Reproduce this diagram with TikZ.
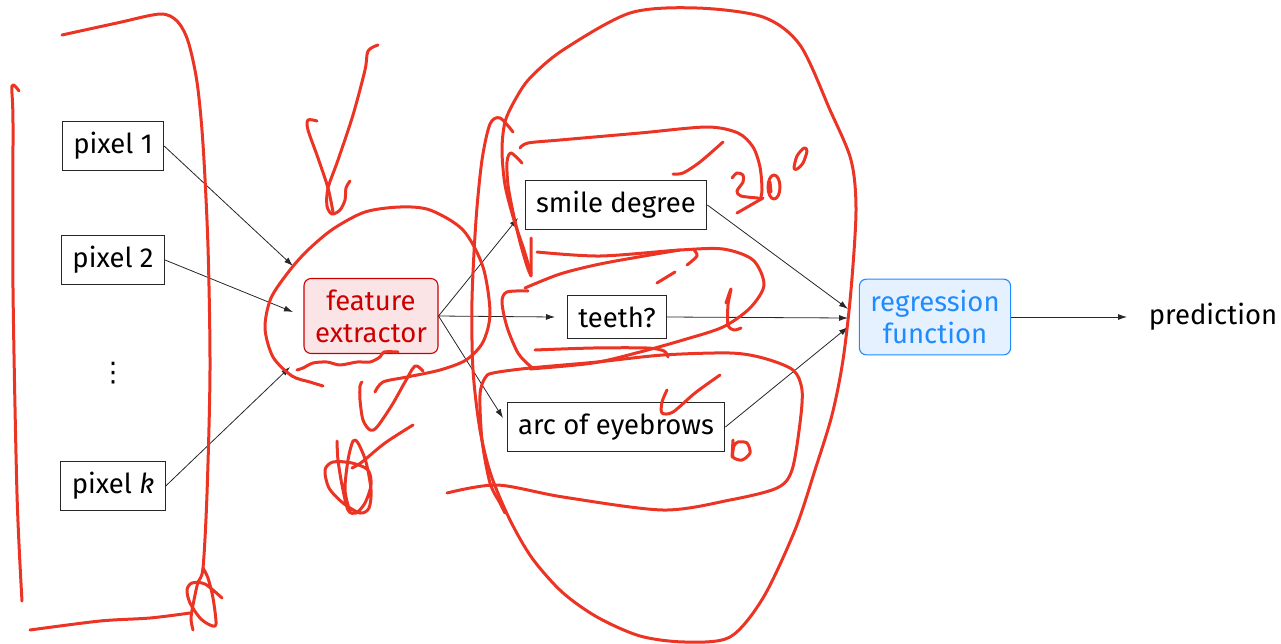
\documentclass[tikz,border=0pt]{standalone}
\usepackage{fontspec}
\setmainfont{Fira Sans}
\newfontfamily\symfont{DejaVu Sans}
\usetikzlibrary{arrows.meta}
\definecolor{inkred}{RGB}{236,52,36}
\definecolor{fered}{RGB}{204,0,0}
\definecolor{fefill}{RGB}{250,228,230}
\definecolor{regblue}{RGB}{30,140,255}
\definecolor{regfill}{RGB}{230,241,255}
\tikzset{
  lbl/.style={font=\fontsize{27.5}{32}\selectfont, inner sep=11pt, align=center},
  box/.style={lbl, draw=black!85, line width=0.9pt, fill=white},
  fbox/.style={lbl, draw=fered, line width=1.1pt, fill=fefill, text=fered, rounded corners=7pt},
  rbox/.style={lbl, draw=regblue, line width=1.1pt, fill=regfill, text=regblue, rounded corners=7pt},
  conn/.style={draw=black!85, line width=0.8pt, -{Latex[length=9pt,width=6pt]}},
  ink/.style={draw=inkred, line width=3pt, line cap=round, line join=round},
}
\begin{document}
\begin{tikzpicture}[x=1pt,y=-1pt]
\useasboundingbox (0,0) rectangle (1281,643);

% inputs
\node[box] (p1) at (113,146) {pixel 1};
\node[box] (p2) at (113,260) {pixel 2};
\node[lbl, inner sep=0pt, font=\symfont\fontsize{27}{30}\selectfont] (dots) at (113,373) {⋮};
\node[box] (pk) at (113,486) {pixel \textit{k}};

% feature extractor and features
\node[fbox] (fe) at (371,316) {feature\\extractor};
\node[box] (smile) at (616,205) {smile degree};
\node[box] (teeth) at (617,317) {teeth?};
\node[box] (arc) at (616,427) {arc of eyebrows};

% regression and output
\node[rbox] (reg) at (935,317) {regression\\function};
\node[lbl] (pred) at (1213,317) {prediction};

% arrow end points
\coordinate (fe-in1) at (293,266);
\coordinate (fe-in2) at (293,312);
\coordinate (fe-ink) at (290,367);
\coordinate (smile-in) at (518,218);
\coordinate (teeth-in) at (555,317);
\coordinate (arc-in) at (503,418);
\coordinate (reg-in1) at (848,309);
\coordinate (reg-in2) at (848,318);
\coordinate (reg-in3) at (848,327);
\coordinate (pred-in) at (1127,317);

\draw[conn] (p1.east) -- (fe-in1);
\draw[conn] (p2.east) -- (fe-in2);
\draw[conn] (pk.east) -- (fe-ink);
\draw[conn] (fe.east) -- (smile-in);
\draw[conn] (fe.east) -- (teeth-in);
\draw[conn] (fe.east) -- (arc-in);
\draw[conn] (smile.east) -- (reg-in1);
\draw[conn] (teeth.east) -- (reg-in2);
\draw[conn] (arc.east) -- (reg-in3);
\draw[conn] (reg.east) -- (pred-in);

% ---- hand-drawn ink ----
% bracket around the pixel column
\draw[ink] plot[smooth] coordinates {(19,91) (12,86) (13,123) (13,288) (17,494) (22,601)};
\draw[ink] plot[smooth] coordinates {(62,35) (117,23) (160,14) (177,21) (188,41) (197,82) (203,144) (208,247) (210,370) (207,494) (203,568) (198,582) (194,600) (191,618) (193,630)};
\draw[ink] plot[smooth] coordinates {(203,568) (208,578) (213,598) (216,624) (210,625) (200,618) (190,603) (187,590) (192,583) (205,584) (222,598)};
\draw[ink] plot[smooth] coordinates {(30,630) (100,621) (150,618) (190,613)};

% mark above the extractor
\draw[ink] plot[smooth] coordinates {(378,45) (368,51) (365,70) (353,115) (338,160) (328,188) (327,206) (332,214) (340,210) (345,200) (346,188) (350,181)};
\draw[ink] plot[smooth] coordinates {(317,121) (308,120) (308,130) (318,158) (328,188) (333,212)};

% loop around the extractor
\draw[ink] plot[smooth] coordinates {(375,392) (383,382) (407,377) (440,370) (466,360) (483,342) (490,313) (483,267) (463,230) (430,210) (400,207) (365,212) (333,229) (308,250) (290,270) (271,298) (265,328) (273,357) (292,376) (310,382) (323,386)};
\draw[ink] plot[smooth] coordinates {(398,352) (384,352) (380,357) (370,362) (357,362) (340,365) (327,362) (313,363) (303,368) (297,370)};

% tick and scribble below the extractor
\draw[ink] plot[smooth] coordinates {(362,382) (360,386) (360,400) (363,420) (370,430) (377,427) (392,405) (405,382) (415,366) (423,371)};
\draw[ink] plot[smooth] coordinates {(413,425) (385,443) (362,462) (352,468)};
\draw[ink] plot[smooth] coordinates {(337,441) (338,460) (342,485) (348,510) (356,513) (365,503) (371,485) (368,470) (352,463) (333,462) (325,470) (329,488) (343,503) (360,513) (369,508) (371,490) (366,462) (358,443) (353,441) (348,460) (345,490) (350,512)};

% face outline
\draw[ink] plot[smooth] coordinates {(513,132) (500,118) (490,124) (482,160) (476,220) (472,300) (473,370) (480,430) (491,475) (510,520) (532,558) (562,592) (597,617) (640,636) (685,642) (730,637) (763,598) (795,530) (815,470) (832,415) (843,360) (851,290) (856,210) (851,160) (830,110) (800,45) (763,17) (697,8) (630,13) (563,50) (530,78) (515,100) (505,122) (502,150) (505,185) (514,220) (524,250) (531,274)};

% eyes: smile degree
\draw[ink] plot[smooth] coordinates {(522,163) (511,153) (507,162) (508,185) (513,212) (520,242) (527,266) (531,276)} -- (531,238);
\draw[ink] plot[smooth] coordinates {(520,148) (528,143) (560,140) (640,133) (707,127) (738,133) (753,147) (760,167) (762,190) (760,200)};
\draw[ink] plot[smooth] coordinates {(673,174) (683,173) (700,162) (723,142)};
\draw[ink] plot[smooth] coordinates {(732,178) (737,173) (743,175) (743,182) (737,191) (741,196) (758,198)};
\draw[ink] (737,213) -- (763,198);
\draw[ink] (774,187) ellipse [x radius=6, y radius=12];
\draw[ink] (770,182) -- (771,192);
\draw[ink] plot[smooth cycle] coordinates {(794,168) (797,156) (804,148) (807,151) (803,163) (797,169)};

% nose: teeth?
\draw[ink] plot[smooth] coordinates {(528,291) (507,292) (502,302) (507,327) (518,353) (530,366) (533,368)};
\draw[ink] plot[smooth] coordinates {(525,288) (560,274) (600,264) (650,255) (680,250)};
\draw[ink] plot[smooth] coordinates {(537,252) (600,256) (680,250) (723,249) (753,260) (764,285) (750,308) (723,327) (683,340) (640,352) (593,363) (530,369)};
\draw[ink] (657,283) -- (675,272);
\draw[ink] plot[smooth] coordinates {(687,265) (697,256) (694,250)};
\draw[ink] plot[smooth] coordinates {(535,350) (593,348) (647,348) (664,351) (668,357)};
\draw[ink] plot[smooth] coordinates {(726,303) (731,289) (728,305) (728,325) (734,330) (741,328)};

% mouth: arc of eyebrows
\draw[ink] plot[smooth] coordinates {(447,493) (497,485) (563,497) (663,510) (730,500) (777,488) (792,470) (800,423) (802,390) (793,370) (763,358) (730,353) (663,355) (597,362) (530,368) (493,373) (485,378) (480,395) (482,440) (490,483) (500,503) (505,513)};
\draw[ink] plot[smooth] coordinates {(667,390) (662,402) (662,413) (673,412) (695,393) (720,375)};
\draw[ink] plot[smooth cycle] coordinates {(738,442) (747,443) (750,453) (742,460) (733,457) (734,446)};
\draw[ink] (733,440) -- (732,457);
\end{tikzpicture}
\end{document}
